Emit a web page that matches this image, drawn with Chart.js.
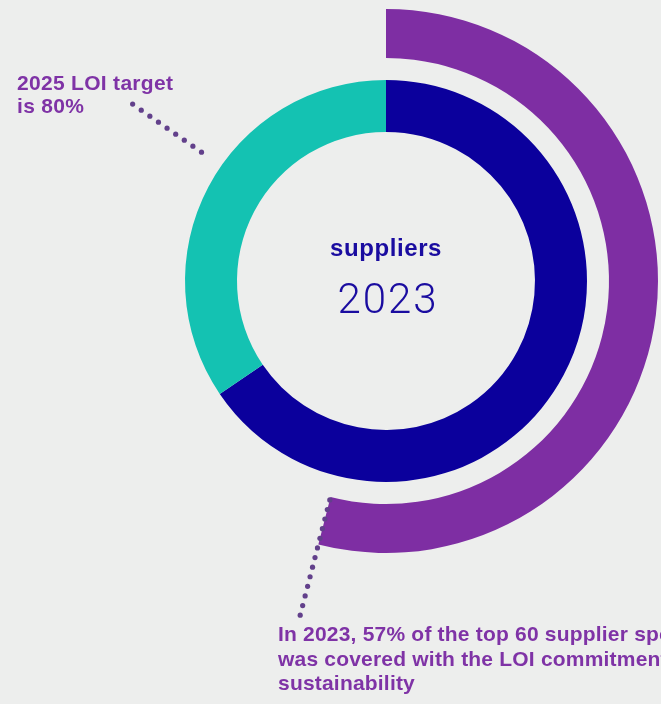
<!DOCTYPE html>
<html>
<head>
<meta charset="utf-8">
<script src="https://cdn.jsdelivr.net/npm/chart.js@4.4.1/dist/chart.umd.min.js"></script>
<style>
  html, body { margin: 0; padding: 0; background: #edeeed; }
  #wrap { position: relative; width: 661px; height: 704px; overflow: hidden; }
  #canvas { position: absolute; left: 0; top: 0; }
  .note { position: absolute; font-family: "Liberation Sans", Arial, sans-serif; font-weight: bold; color: #7f33a6; white-space: nowrap; }
  .center { position: absolute; left: 236px; width: 300px; text-align: center; }
</style>
</head>
<body>
<div id="wrap">
  <canvas id="canvas" width="661" height="704"></canvas>
  <div class="note" id="target" style="left:17px; top:71px; font-size:21px; line-height:23px; letter-spacing:0.3px;">2025 LOI target<br>is 80%</div>
  <div class="center" style="top:236px; font-family:'Liberation Sans', Arial, sans-serif; font-weight:bold; font-size:24px; line-height:23px; letter-spacing:0.6px; color:#1a0ca0;">suppliers</div>
  <div class="center" style="left:238px; top:278px; font-family:Roboto, 'Open Sans', sans-serif; font-weight:300; font-size:42px; line-height:42px; letter-spacing:2px; color:#1a0ca0;">2023</div>
  <div class="note" id="spend" style="left:278px; top:622px; font-size:21px; line-height:24.5px; letter-spacing:0.2px;">In 2023, 57% of the top 60 supplier spend<br>was covered with the LOI commitment on<br>sustainability</div>
</div>
<script>
// outer arc: top 60 supplier spend covered by LOI (2023)
const spendLabels = ["Covered by LOI", "Not covered"];
const spendValues = [54, 46];
// inner ring: suppliers 2023
const supplierLabels = ["LOI signed", "Not signed"];
const supplierValues = [65.5, 34.5];

const purple = "#7e2ea3";
const darkBlue = "#0b009c";
const teal = "#14c2b2";
const dotColor = "#62408b";

// dotted leader lines (fraction of the circle, radius from/to)
const leaders = [
  { at: 0.847, from: 225, to: 309, n: 9 },
  { at: null, from: 226, to: 345, n: 13 } // null = end of the purple arc
];

const dotsPlugin = {
  id: "dots",
  afterDatasetsDraw(chart) {
    const ctx = chart.ctx;
    const arc = chart.getDatasetMeta(0).data[0];
    const cx = arc.x, cy = arc.y;
    ctx.save();
    ctx.fillStyle = dotColor;
    leaders.forEach(l => {
      let a = l.at == null ? arc.endAngle : -Math.PI / 2 + 2 * Math.PI * l.at;
      for (let i = 0; i < l.n; i++) {
        let r = l.from + (l.to - l.from) * i / (l.n - 1);
        ctx.beginPath();
        ctx.arc(cx + r * Math.cos(a), cy + r * Math.sin(a), 2.6, 0, Math.PI * 2);
        ctx.fill();
      }
    });
    ctx.restore();
  }
};

let ctx = document.getElementById("canvas").getContext("2d");
let grafica = new Chart(ctx, {
  type: "doughnut",
  data: {
    labels: spendLabels,
    datasets: [
      { label: "spend", data: spendValues, backgroundColor: [purple, "rgba(0,0,0,0)"], weight: 49 },
      { label: "gap", data: [1], backgroundColor: ["rgba(0,0,0,0)"], weight: 22 },
      { label: "suppliers", data: supplierValues, backgroundColor: [darkBlue, teal], weight: 52 }
    ]
  },
  options: {
    responsive: false,
    animation: false,
    cutout: 149,
    borderWidth: 0,
    layout: { padding: { left: 114, right: 3, top: 9, bottom: 151 } },
    plugins: {
      legend: { display: false },
      tooltip: { enabled: false }
    },
    events: []
  },
  plugins: [dotsPlugin]
});
</script>
</body>
</html>
